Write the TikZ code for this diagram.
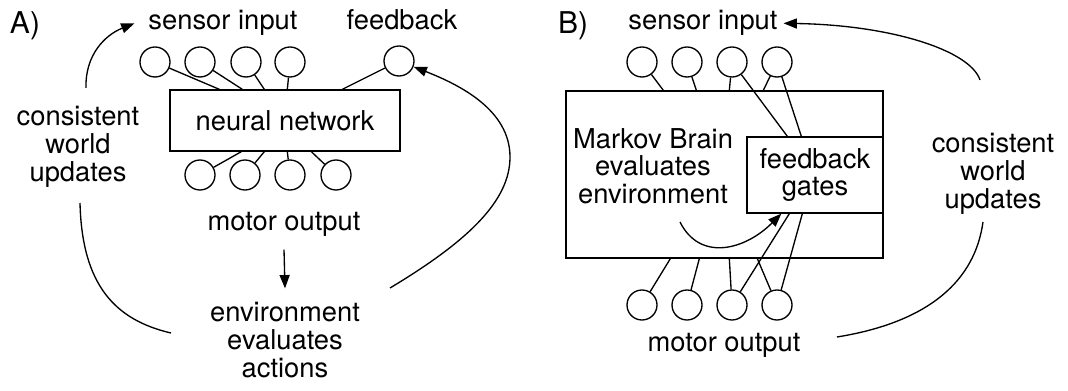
\documentclass[tikz,border=0pt]{standalone}
\usepackage{fontspec}
\setmainfont{TeX Gyre Heros}
\usetikzlibrary{arrows.meta, calc}
\tikzstyle{myText} = [font=\fontsize{20.5}{20.8}\selectfont, inner sep=0pt, align=center]
\tikzstyle{myLabel} = [font=\fontsize{22.5}{24}\selectfont, inner sep=0pt]
\tikzstyle{myUnit} = [circle, draw, minimum size=22.5pt, inner sep=0pt]
\tikzstyle{myBox} = [rectangle, draw, fill=white, inner sep=0pt, text centered, font=\fontsize{20.5}{20.8}\selectfont, align=center]
\tikzstyle{myArrow} = [-{Triangle[length=10pt,width=7.5pt]}]

\begin{document}
\begin{tikzpicture}[x=0.75pt, y=-0.75pt, line width=1pt]
		\useasboundingbox (0,0) rectangle (1068,391);
		% A) neural network
		\node [myLabel,anchor=base](labA) at (25,34){A)};
		\node [myText,anchor=base](siA) at (223,30){sensor input};
		\node [myText,anchor=base](fbA) at (402,30){feedback};
		\foreach \i/\x in {1/155,2/200,3/246,4/290} \node [myUnit](s\i) at (\x,62){};
		\node [myUnit](fb) at (399,61){};
		\node [myBox,minimum width=172.5pt,minimum height=45.75pt](nn) at (285,120.5){neural network};
		\foreach \i/\x in {1/200,2/245,3/290,4/336} \node [myUnit](m\i) at (\x,175){};
		\node [myText,anchor=base](moA) at (284,231){motor output};
		\node [myText](envA) at (285,340){environment\\evaluates\\actions};
		\node [myText](cwA) at (78,147){consistent\\world\\updates};
		\foreach \n/\d in {s1/50,s2/73,s3/95,s4/118,fb/173} \draw (\n) -- ($(nn.north west)+(\d,0)$);
		\foreach \n/\d in {m1/72,m2/95,m3/118,m4/142} \draw (\n) -- ($(nn.south west)+(\d,0)$);
		\draw [myArrow]([yshift=-9pt]moA.south) -- ([yshift=10pt]envA.north);
		\coordinate (cwAtop) at (86,88);
		\coordinate (cwAbot) at (80,203);
		\coordinate (envAleft) at (171,333);
		\coordinate (envAright) at (390,288);
		\draw [myArrow](cwAtop) .. controls (85,55) and (105,35) .. ([xshift=-10pt]siA.west);
		\draw (cwAbot) .. controls (82,285) and (115,320) .. (envAleft);
		\draw [myArrow](envAright) .. controls (470,240) and (510,200) .. (510,157) .. controls (510,110) and (460,85) .. (fb);
		% B) Markov Brain
		\node [myLabel,anchor=base](labB) at (573,34){B)};
		\node [myText,anchor=base](siB) at (703,30){sensor input};
		\foreach \i/\x in {1/642,2/687,3/732,4/777} \node [myUnit](t\i) at (\x,62){};
		\node [myBox,minimum width=237.75pt,minimum height=125.25pt](mb) at (724.5,174.5){};
		\node [myText](mbText) at (653,166){Markov Brain\\evaluates\\environment};
		\node [myBox,minimum width=102pt,minimum height=57pt](fg) at (815,175){feedback\\gates};
		\foreach \i/\x in {1/642,2/687,3/732,4/777} \node [myUnit](n\i) at (\x,305){};
		\node [myText,anchor=base](moB) at (724,352){motor output};
		\node [myText](cwB) at (993,174){consistent\\world\\updates};
		\foreach \n/\d in {t1/98,t2/131,t3/164,t4/198} \draw (\n) -- ($(mb.north west)+(\d,0)$);
		\foreach \n/\d in {t3/41,t4/55} \draw (\n) -- ($(fg.north west)+(\d,0)$);
		\foreach \n/\d in {n1/105,n2/134,n3/164,n4/192} \draw (\n) -- ($(mb.south west)+(\d,0)$);
		\foreach \n/\d in {n3/43,n4/56} \draw (\n) -- ($(fg.south west)+(\d,0)$);
		\coordinate (evStart) at (680,222);
		\coordinate (cwBtop) at (980,80);
		\coordinate (cwBbot) at (983,222);
		\coordinate (moBright) at (837,337);
		\draw [myArrow](evStart) .. controls (700,262) and (745,250) .. ($(fg.south west)+(35,0)$);
		\draw [myArrow](cwBtop) .. controls (970,50) and (890,25) .. ([xshift=4pt]siB.east);
		\draw (moBright) .. controls (930,322) and (975,280) .. (cwBbot);
		
		\end{tikzpicture}
\end{document}
